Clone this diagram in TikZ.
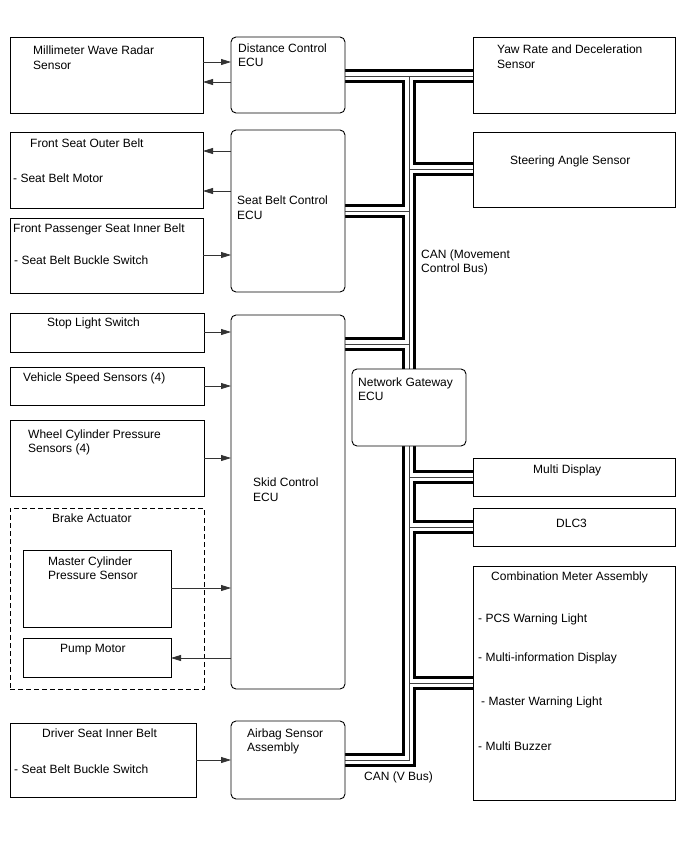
\documentclass[tikz,border=0pt]{standalone}
\usepackage{fontspec}
\setmainfont{Liberation Sans}
\usetikzlibrary{arrows.meta,backgrounds}
\begin{document}
\begin{tikzpicture}[x=1pt,y=-1pt,
  box/.style={draw=black, line width=0.9pt, fill=white, inner sep=0pt, outer sep=0pt, anchor=north west},
  ecu/.style={box, rounded corners=5pt},
  dashbox/.style={draw=black, line width=0.9pt, dash pattern=on 5pt off 3pt, inner sep=0pt, outer sep=0pt, anchor=north west},
  txt/.style={anchor=base west, inner sep=0pt, font=\fontsize{12}{14}\selectfont},
  arr/.style={draw=black!80, line width=0.8pt, -{Triangle[length=10pt,width=6pt]}},
  busA/.style={line width=13.4pt, black, line join=miter},
  busB/.style={line width=8pt, white, line join=miter},
  busC/.style={line width=1pt, black!75, line join=miter},
]
\useasboundingbox (0,0) rectangle (688,852);

% left column
\node[box, minimum width=193pt, minimum height=76pt] (mmw) at (10,37) {};
\node[box, minimum width=193pt, minimum height=76pt] (fso) at (10,132) {};
\node[box, minimum width=193pt, minimum height=75pt] (fpi) at (10,218) {};
\node[box, minimum width=194pt, minimum height=39pt] (sls) at (10,313) {};
\node[box, minimum width=194pt, minimum height=38pt] (vss) at (10,367) {};
\node[box, minimum width=194pt, minimum height=76pt] (wcp) at (10,420) {};
\node[dashbox, minimum width=194pt, minimum height=181pt] (ba) at (10,508) {};
\node[box, minimum width=148pt, minimum height=77pt] (mcp) at (23,550) {};
\node[box, minimum width=148pt, minimum height=39pt] (pump) at (23,638) {};
\node[box, minimum width=186pt, minimum height=74pt] (dsi) at (10,723) {};

% middle column
\node[ecu, minimum width=114pt, minimum height=76pt] (dce) at (231,37) {};
\node[ecu, minimum width=114pt, minimum height=162pt] (sbe) at (231,130) {};
\node[ecu, minimum width=114pt, minimum height=374pt] (skid) at (231,315) {};
\node[ecu, minimum width=114pt, minimum height=78pt] (air) at (231,721) {};
\node[ecu, minimum width=114pt, minimum height=77pt] (gw) at (352,369) {};

% right column
\node[box, minimum width=202pt, minimum height=76pt] (yaw) at (473,37) {};
\node[box, minimum width=202pt, minimum height=75pt] (sas) at (473,132) {};
\node[box, minimum width=202pt, minimum height=38pt] (md) at (473,458) {};
\node[box, minimum width=202pt, minimum height=38pt] (dlc) at (473,508) {};
\node[box, minimum width=202pt, minimum height=234pt] (cma) at (473,566) {};

% texts
\node[txt] (t-mmw1) at (33,54.6) {Millimeter Wave Radar};
\node[txt] (t-mmw2) at (33,69) {Sensor};
\node[txt] (t-dce1) at (238,52) {Distance Control};
\node[txt] (t-dce2) at (238,66.5) {ECU};
\node[txt] (t-yaw1) at (497,53.6) {Yaw Rate and Deceleration};
\node[txt] (t-yaw2) at (497,68) {Sensor};
\node[txt] (t-fso1) at (30,147) {Front Seat Outer Belt};
\node[txt] (t-fso2) at (13,182) {- Seat Belt Motor};
\node[txt] (t-sbe1) at (237,204.5) {Seat Belt Control};
\node[txt] (t-sbe2) at (237,219) {ECU};
\node[txt] (t-sas) at (510,164) {Steering Angle Sensor};
\node[txt] (t-fpi1) at (13,232) {Front Passenger Seat Inner Belt};
\node[txt] (t-fpi2) at (14,264) {- Seat Belt Buckle Switch};
\node[txt] (t-can1) at (421,258.5) {CAN (Movement};
\node[txt] (t-can2) at (421,272.5) {Control Bus)};
\node[txt] (t-sls) at (47,326) {Stop Light Switch};
\node[txt] (t-vss) at (23,381) {Vehicle Speed Sensors (4)};
\node[txt] (t-wcp1) at (28,438.6) {Wheel Cylinder Pressure};
\node[txt] (t-wcp2) at (28,452.5) {Sensors (4)};
\node[txt] (t-gw1) at (358,386) {Network Gateway};
\node[txt] (t-gw2) at (358,400.5) {ECU};
\node[txt] (t-md) at (533,473.6) {Multi Display};
\node[txt] (t-skid1) at (253,486.5) {Skid Control};
\node[txt] (t-skid2) at (253,501) {ECU};
\node[txt] (t-ba) at (52,522) {Brake Actuator};
\node[txt] (t-dlc) at (556,527) {DLC3};
\node[txt] (t-mcp1) at (48,565.3) {Master Cylinder};
\node[txt] (t-mcp2) at (48,579.5) {Pressure Sensor};
\node[txt] (t-cma) at (491,580.3) {Combination Meter Assembly};
\node[txt] (t-cma1) at (478,622) {- PCS Warning Light};
\node[txt] (t-cma2) at (478,661) {- Multi-information Display};
\node[txt] (t-pump) at (60,652.6) {Pump Motor};
\node[txt] (t-cma3) at (481,705.3) {- Master Warning Light};
\node[txt] (t-dsi1) at (42,737.6) {Driver Seat Inner Belt};
\node[txt] (t-air1) at (247,737.6) {Airbag Sensor};
\node[txt] (t-air2) at (247,751.3) {Assembly};
\node[txt] (t-cma4) at (478,750.3) {- Multi Buzzer};
\node[txt] (t-dsi2) at (14,773) {- Seat Belt Buckle Switch};
\node[txt] (t-canv) at (364,780.3) {CAN (V Bus)};

% arrows
\draw[arr] (mmw.east |- 0,62) -- (dce.west |- 0,62);
\draw[arr] (dce.west |- 0,82) -- (mmw.east |- 0,82);
\draw[arr] (sbe.west |- 0,151) -- (fso.east |- 0,151);
\draw[arr] (sbe.west |- 0,191) -- (fso.east |- 0,191);
\draw[arr] (fpi.east |- 0,255) -- (sbe.west |- 0,255);
\draw[arr] (sls.east |- 0,332) -- (skid.west |- 0,332);
\draw[arr] (vss.east |- 0,386) -- (skid.west |- 0,386);
\draw[arr] (wcp.east |- 0,458) -- (skid.west |- 0,458);
\draw[arr] (mcp.east |- 0,588) -- (skid.west |- 0,588);
\draw[arr] (skid.west |- 0,658) -- (pump.east |- 0,658);
\draw[arr] (dsi.east |- 0,760) -- (air.west |- 0,760);

% bus
\coordinate (bustop) at (409,76);
\coordinate (buscorner) at (409,760);
\begin{pgfonlayer}{background}
\fill[white] (0,0) rectangle (688,852);
\foreach \s in {busA,busB,busC}{
  \draw[\s] (dce.east |- bustop) -- (yaw.west |- bustop);
  \draw[\s] (bustop) -- (buscorner) -- (air.east |- buscorner);
  \draw[\s] (sbe.east |- 0,211) -- (bustop |- 0,211);
  \draw[\s] (bustop |- 0,169) -- (sas.west |- 0,169);
  \draw[\s] (skid.east |- 0,344) -- (bustop |- 0,344);
  \draw[\s] (bustop |- md.west) -- (md.west);
  \draw[\s] (bustop |- dlc.west) -- (dlc.west);
  \draw[\s] (bustop |- 0,683) -- (cma.west |- 0,683);
}
\end{pgfonlayer}
\end{tikzpicture}
\end{document}
